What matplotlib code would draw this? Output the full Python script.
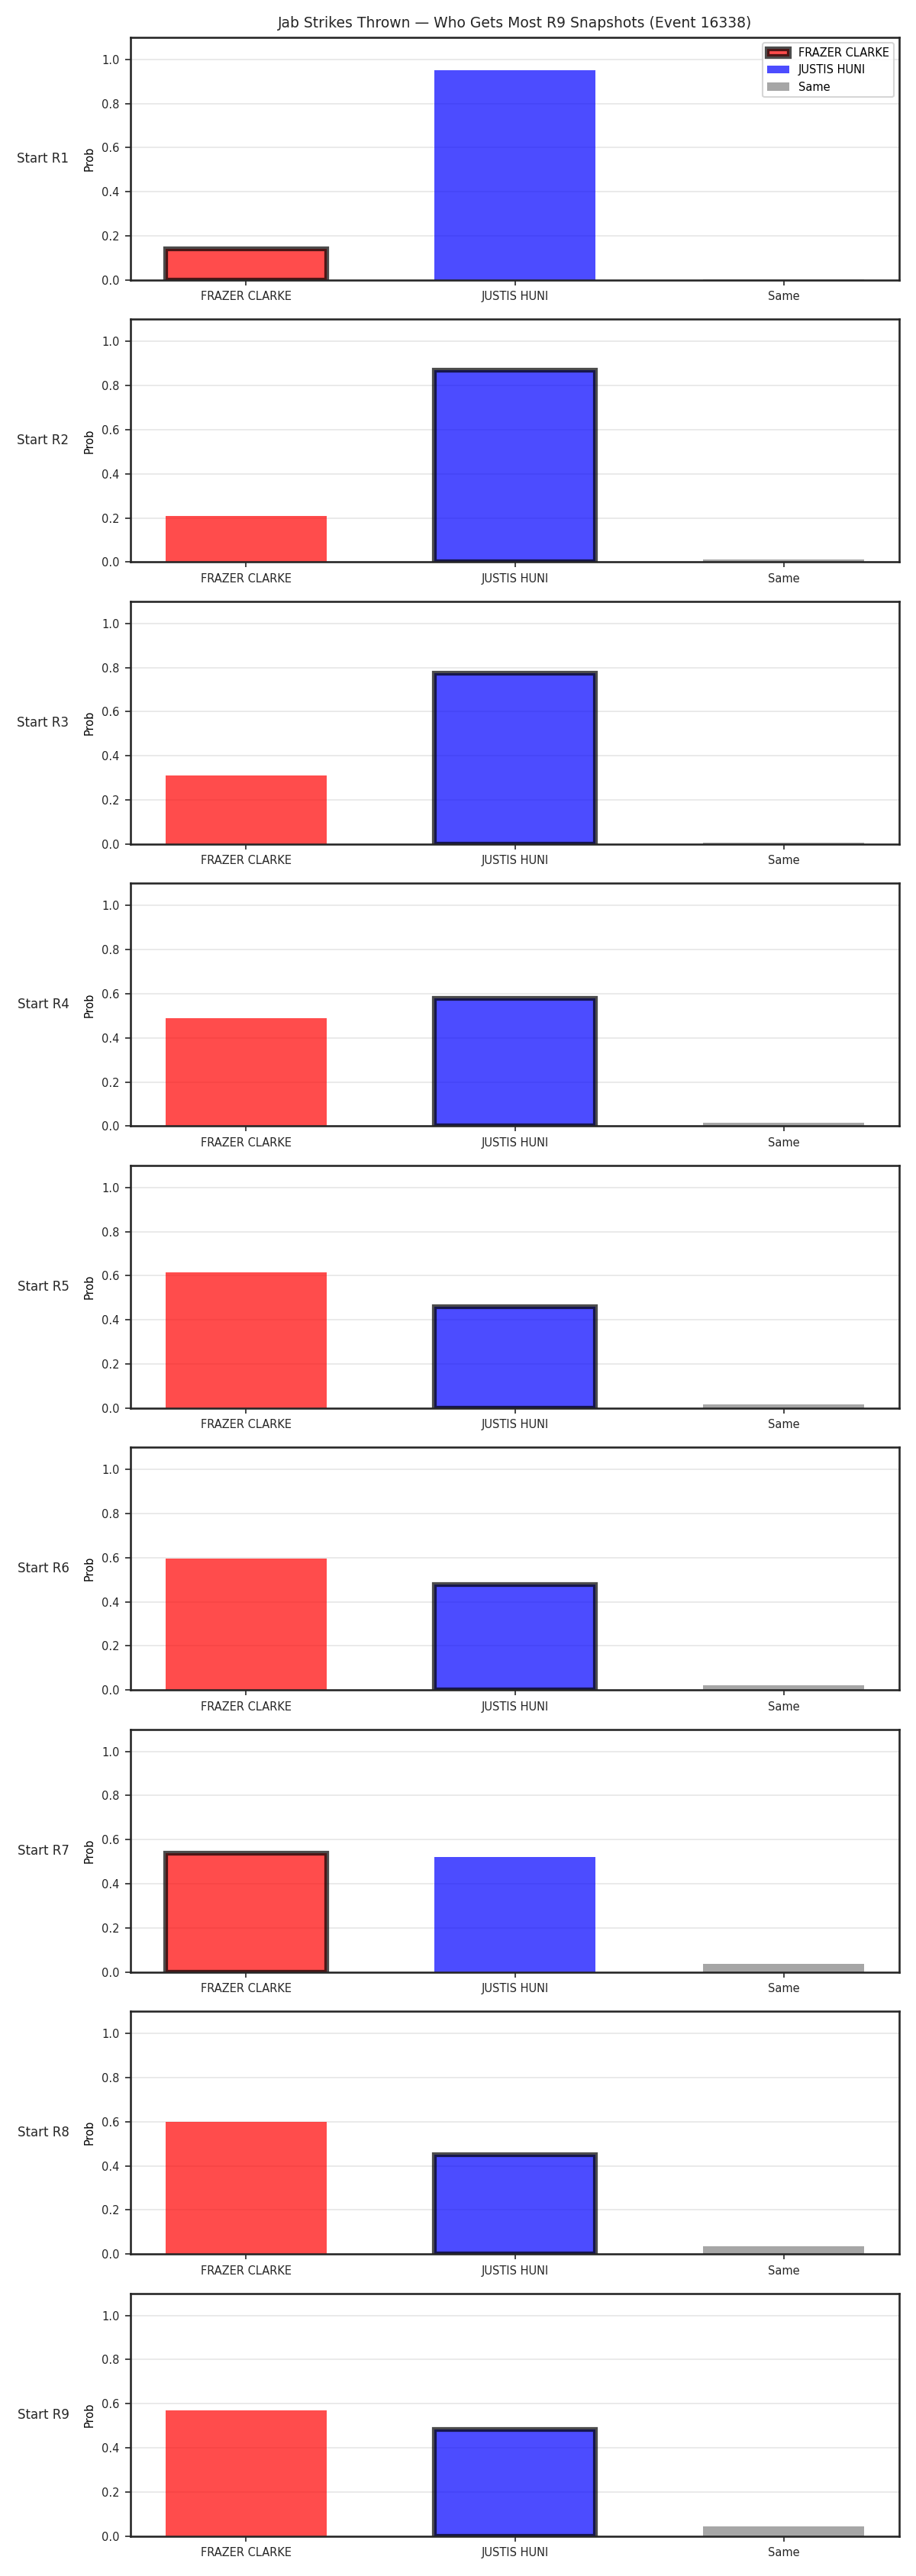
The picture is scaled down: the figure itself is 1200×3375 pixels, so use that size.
import numpy as np
import matplotlib
matplotlib.use("Agg")
import matplotlib.pyplot as plt

# データ
categories = ["FRAZER CLARKE", "JUSTIS HUNI", "Same"]
rounds = ["Start R1", "Start R2", "Start R3", "Start R4", "Start R5",
          "Start R6", "Start R7", "Start R8", "Start R9"]
frazer = [0.142, 0.21, 0.31, 0.49, 0.615, 0.595, 0.54, 0.60, 0.57]
huni = [0.95, 0.87, 0.775, 0.58, 0.46, 0.48, 0.52, 0.452, 0.483]
same = [0.003, 0.01, 0.005, 0.015, 0.015, 0.023, 0.037, 0.034, 0.045]
winner = [0, 1, 1, 1, 1, 1, 0, 1, 1]   # 太枠を付けるバー

colors = ["red", "blue", "gray"]
dark = "#262626"

fig, axes = plt.subplots(len(rounds), 1, figsize=(8, 22.5), dpi=150)
fig.subplots_adjust(left=0.1425, right=0.9817, top=0.9855, bottom=0.0155, hspace=0.162)

x = np.arange(len(categories))
for i, ax in enumerate(axes):
    vals = [frazer[i], huni[i], same[i]]
    for j in range(len(categories)):
        if j == winner[i]:
            ax.bar(x[j], vals[j], width=0.6, color=colors[j], alpha=0.7,
                   edgecolor="black", linewidth=3, label=categories[j])
        else:
            ax.bar(x[j], vals[j], width=0.6, color=colors[j], alpha=0.7,
                   label=categories[j])
    ax.set_ylim(0, 1.1)
    ax.set_xticks(x)
    ax.set_xticklabels(categories)
    ax.set_ylabel("Prob", fontsize=7)
    ax.tick_params(labelsize=7, color=dark, labelcolor=dark)
    ax.yaxis.grid(True, color="#e6e6e6", linewidth=0.8)
    ax.set_axisbelow(True)
    for s in ax.spines.values():
        s.set_color(dark)
        s.set_linewidth(1.25)
    ax.text(-0.08, 0.5, rounds[i], transform=ax.transAxes, ha="right",
            va="center", fontsize=8, color=dark)
    if i == 0:
        ax.set_title("Jab Strikes Thrown \u2014 Who Gets Most R9 Snapshots (Event 16338)",
                     fontsize=9, color=dark)
        ax.legend(loc="upper right", fontsize=7)

plt.savefig("out.png", dpi=150)
